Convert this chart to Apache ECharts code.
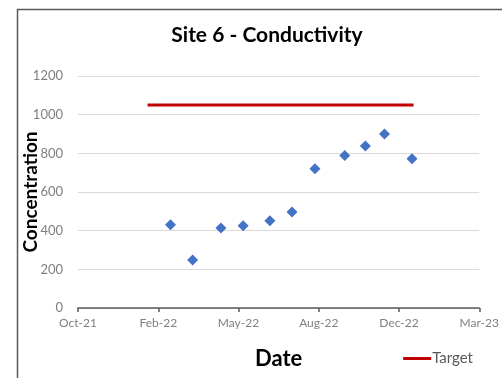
<!DOCTYPE html>
<html>
<head>
<meta charset="utf-8">
<script src="https://cdn.jsdelivr.net/npm/echarts@6/dist/echarts.min.js"></script>
<style>
  html, body { margin: 0; padding: 0; background: #fff; }
  #main { width: 502px; height: 378px; }
</style>
</head>
<body>
<div id="main"></div>
<script>
var chartDom = document.getElementById("main");
var myChart = echarts.init(chartDom);

// sample dates and conductivity readings
var sampleDates = ["2022-02-17", "2022-03-18", "2022-04-24", "2022-05-23", "2022-06-27",
  "2022-07-26", "2022-08-25", "2022-10-03", "2022-10-30", "2022-11-24", "2022-12-30"];
var conductivity = [430, 248, 414, 426, 451, 497, 720, 789, 838, 900, 772];

// target line
var targetDates = ["2022-01-18", "2023-01-01"];
var targetValues = [1050, 1050];

// x axis: date axis starting 19-Oct-21, major unit 105 days
var axisStart = "2021-10-19";
var majorDays = 105;
var tickCount = 5;
var yTicks = [0, 200, 400, 600, 800, 1000, 1200];

var months = ["Jan", "Feb", "Mar", "Apr", "May", "Jun", "Jul", "Aug", "Sep", "Oct", "Nov", "Dec"];
var DAY = 86400000;

function toMs(s) {
  var p = s.split("-");
  return Date.UTC(+p[0], +p[1] - 1, +p[2]);
}
function toDays(s) {
  return Math.round((toMs(s) - toMs(axisStart)) / DAY);
}
function dayLabel(d) {
  var dt = new Date(toMs(axisStart) + d * DAY);
  return months[dt.getUTCMonth()] + "-" + String(dt.getUTCFullYear()).slice(2);
}

var scatterData = sampleDates.map(function (d, i) {
  return [toDays(d), conductivity[i]];
});
var targetData = targetDates.map(function (d, i) {
  return [toDays(d), targetValues[i]];
});

var labelColor = "#7f7f7f";
var fontFam = "Lato, 'Open Sans', sans-serif";

var option = {
  animation: false,
  title: {
    text: "Site 6 - Conductivity",
    left: 262,
    top: 20,
    textAlign: "center",
    textStyle: { fontFamily: fontFam, fontSize: 21, fontWeight: "bold", color: "#000" }
  },
  graphic: [
    {
      type: "rect",
      left: 15,
      top: 7,
      shape: { width: 600, height: 500 },
      style: { fill: "none", stroke: "#595959", lineWidth: 1.5 },
      silent: true
    }
  ],
  legend: {
    right: 24,
    top: 346,
    itemWidth: 28,
    itemHeight: 3,
    itemGap: 0,
    icon: "rect",
    data: ["Target"],
    textStyle: { fontFamily: fontFam, fontSize: 15, color: "#595959", padding: [0, 0, 0, -4] }
  },
  grid: { left: 78, right: 21, top: 76, bottom: 70 },
  xAxis: {
    type: "value",
    min: 0,
    max: majorDays * tickCount,
    interval: majorDays,
    name: "Date",
    nameLocation: "middle",
    nameGap: 40,
    nameTextStyle: { fontFamily: fontFam, fontSize: 22, fontWeight: "bold", color: "#000" },
    axisLine: { show: true, lineStyle: { color: "#595959", width: 1.5 } },
    axisTick: { show: true, length: 4, lineStyle: { color: "#595959", width: 1.5 } },
    axisLabel: {
      fontFamily: fontFam,
      fontSize: 12,
      color: labelColor,
      margin: 9,
      formatter: function (v) { return dayLabel(v); }
    },
    splitLine: { show: false }
  },
  yAxis: {
    type: "value",
    min: yTicks[0],
    max: yTicks[yTicks.length - 1],
    interval: yTicks[1] - yTicks[0],
    name: "Concentration",
    nameLocation: "middle",
    nameGap: 38,
    nameMoveOverlap: false,
    nameRotate: 90,
    nameTextStyle: { fontFamily: fontFam, fontSize: 19, fontWeight: "bold", color: "#000" },
    axisLine: { show: false },
    axisTick: { show: false },
    axisLabel: {
      fontFamily: fontFam,
      fontSize: 13,
      color: labelColor,
      margin: 15,
      formatter: function (v) { return String(v); }
    },
    splitLine: { lineStyle: { color: "#d9d9d9", width: 1 } }
  },
  series: [
    {
      name: "Conductivity",
      type: "scatter",
      symbol: "diamond",
      symbolSize: 11,
      itemStyle: { color: "#4472c4", opacity: 1 },
      data: scatterData
    },
    {
      name: "Target",
      type: "line",
      symbol: "none",
      lineStyle: { color: "#c00000", width: 3 },
      itemStyle: { color: "#c00000" },
      data: targetData
    }
  ]
};

option && myChart.setOption(option);
</script>
</body>
</html>
